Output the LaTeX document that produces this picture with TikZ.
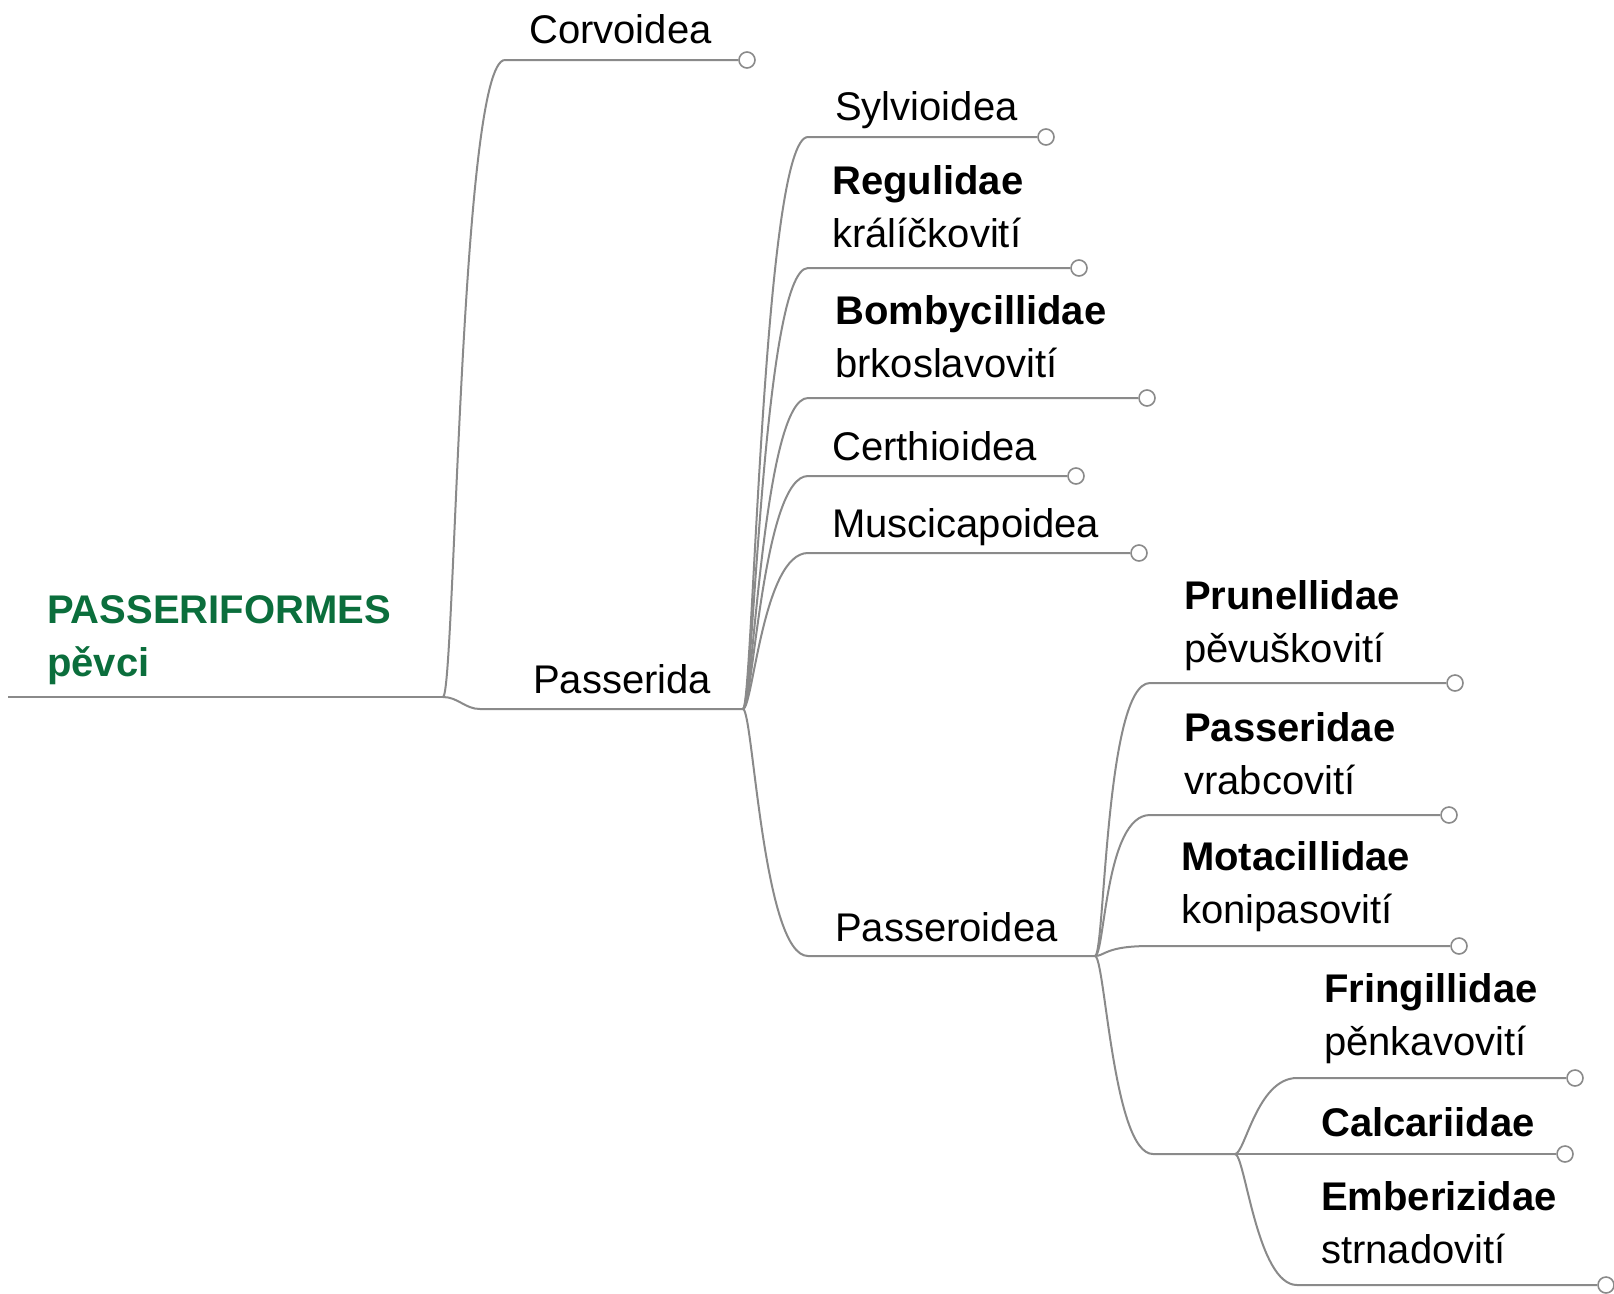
\documentclass[tikz,border=0pt]{standalone}
\usepackage{fontspec}
\setmainfont{Liberation Sans}
\usetikzlibrary{
  positioning,
  calc
}
\definecolor{ppLine}{HTML}{8A8A8A}
\definecolor{ppRoot}{HTML}{0B6E3C}

\begin{document}
\begin{tikzpicture}[x=1pt, y=-1pt,
  every node/.style={font=\fontsize{40}{52.5}\selectfont, inner sep=0pt},
  link/.style={draw=ppLine, line width=2pt},
  leaf/.style={anchor=base west, align=left},
  knob/.style={circle, draw=ppLine, fill=white, line width=1.6pt, minimum size=16pt, inner sep=0pt}]
  \useasboundingbox (0,0) rectangle (1614,1293);

  % root (base = last line)
  \node[leaf, font=\fontsize{40}{52.5}\selectfont\bfseries, text=ppRoot] (root) at (47,676) {PASSERIFORMES\\pěvci};
  \coordinate (root-in) at (8,697);
  \coordinate (root-out) at (443,697);
  \draw[link] (root-in) -- (root-out);

  % Corvoidea / Passerida
  \node[leaf] (corv) at (529,43) {Corvoidea};
  \coordinate (corv-in) at (505,60);
  \node[knob] (corv-end) at (747,60) {};
  \draw[link] (root-out) .. controls +(12,0) and +(-45,0) .. (corv-in) -- (corv-end);

  \node[leaf] (pda) at (533,693) {Passerida};
  \coordinate (pda-in) at (480,709);
  \coordinate (pda-out) at (743,709);
  \draw[link] (root-out) .. controls +(15,0) and +(-15,0) .. (pda-in) -- (pda-out);

  % Passerida
  \foreach \nm/\y/\ex/\tx/\bl/\lab in {
    sylv/137/1046/835/120/{Sylvioidea},
    regu/268/1079/832/247/{\textbf{Regulidae}\\králíčkovití},
    bomb/398/1147/835/377/{\textbf{Bombycillidae}\\brkoslavovití},
    cert/476/1076/832/460/{Certhioidea},
    musc/553/1139/832/537/{Muscicapoidea}}{
    \node[leaf] (\nm) at (\tx,\bl) {\lab};
    \coordinate (\nm-in) at (808,\y);
    \node[knob] (\nm-end) at (\ex,\y) {};
    \draw[link] (pda-out) .. controls +(10,0) and +(-45,0) .. (\nm-in) -- (\nm-end);
  }

  \node[leaf] (psd) at (835,941) {Passeroidea};
  \coordinate (psd-in) at (808,956);
  \coordinate (psd-out) at (1095,956);
  \draw[link] (pda-out) .. controls +(10,0) and +(-45,0) .. (psd-in) -- (psd-out);

  % Passeroidea
  \foreach \nm/\y/\ex/\tx/\bl/\lab in {
    prun/683/1455/1184/662/{\textbf{Prunellidae}\\pěvuškovití},
    pass/815/1449/1184/794/{\textbf{Passeridae}\\vrabcovití},
    mota/946/1459/1181/923/{\textbf{Motacillidae}\\konipasovití}}{
    \node[leaf] (\nm) at (\tx,\bl) {\lab};
    \coordinate (\nm-in) at (1150,\y);
    \node[knob] (\nm-end) at (\ex,\y) {};
    \draw[link] (psd-out) .. controls +(10,0) and +(-45,0) .. (\nm-in) -- (\nm-end);
  }

  \coordinate (fam-in) at (1153,1154);
  \coordinate (fam-out) at (1235,1154);
  \draw[link] (psd-out) .. controls +(10,0) and +(-40,0) .. (fam-in) -- (fam-out);

  \foreach \nm/\y/\ex/\tx/\bl/\lab in {
    frin/1078/1575/1324/1055/{\textbf{Fringillidae}\\pěnkavovití},
    calc/1154/1565/1321/1136/{\textbf{Calcariidae}},
    embe/1285/1606/1321/1263/{\textbf{Emberizidae}\\strnadovití}}{
    \node[leaf] (\nm) at (\tx,\bl) {\lab};
    \coordinate (\nm-in) at (1297,\y);
    \node[knob] (\nm-end) at (\ex,\y) {};
    \draw[link] (fam-out) .. controls +(10,0) and +(-40,0) .. (\nm-in) -- (\nm-end);
  }
\end{tikzpicture}
\end{document}
